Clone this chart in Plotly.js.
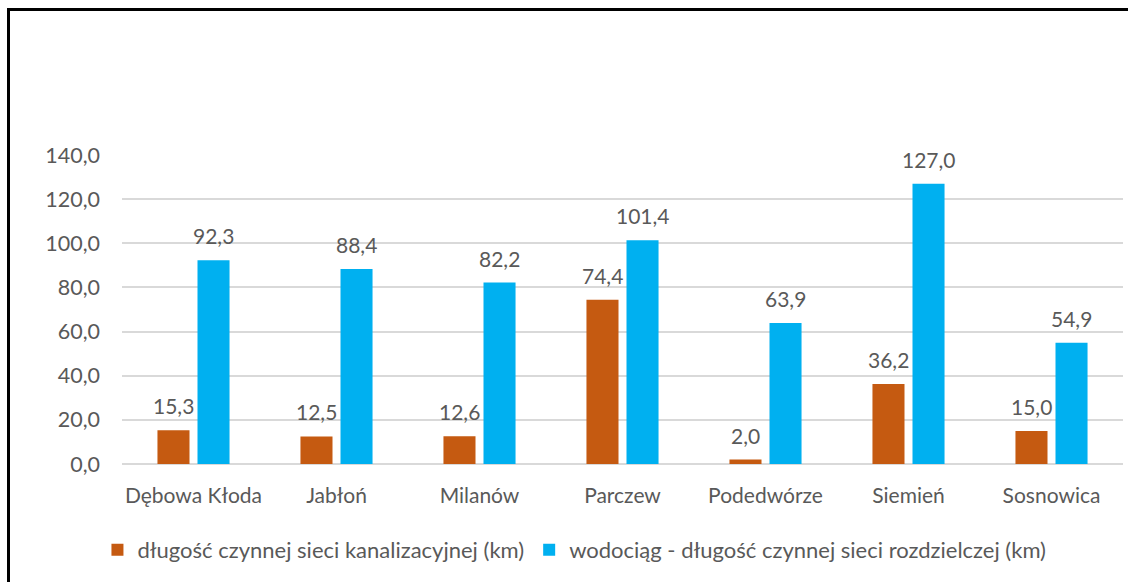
<!DOCTYPE html>
<html>
<head>
<meta charset="utf-8">
<script src="https://cdn.plot.ly/plotly-3.0.1.min.js"></script>
<style>
  html, body { margin: 0; padding: 0; background: #fff; }
  #wrap { position: relative; width: 1128px; height: 582px; overflow: hidden; }
  #chart { position: absolute; left: 0; top: 0; width: 1128px; height: 582px; }
  #frame { position: absolute; left: 7px; top: 8px; width: 1200px; height: 700px;
           border-left: 3px solid #000; border-top: 3px solid #000; pointer-events: none; }
</style>
</head>
<body>
<div id="wrap">
  <div id="chart"></div>
  <div id="frame"></div>
</div>
<script>
const categories = ["Dębowa Kłoda", "Jabłoń", "Milanów", "Parczew", "Podedwórze", "Siemień", "Sosnowica"];
const kanalizacja = [15.3, 12.5, 12.6, 74.4, 2.0, 36.2, 15.0];
const wodociag = [92.3, 88.4, 82.2, 101.4, 63.9, 127.0, 54.9];
const seriesNames = ["długość czynnej sieci kanalizacyjnej (km)", "wodociąg - długość czynnej sieci rozdzielczej (km)"];
const yTicks = [0, 20, 40, 60, 80, 100, 120, 140];

const fmt = v => v.toFixed(1).replace('.', ',');
const textColor = '#595959';
const fontFamily = 'Lato, "Open Sans", sans-serif';

const traces = [
  { type: 'bar', name: seriesNames[0], x: categories, y: kanalizacja,
    marker: { color: '#C55A11' }, hoverinfo: 'none' },
  { type: 'bar', name: seriesNames[1], x: categories, y: wodociag,
    marker: { color: '#00B0F0' }, hoverinfo: 'none' }
];

const annotations = [];
[kanalizacja, wodociag].forEach((vals, si) => {
  vals.forEach((v, i) => {
    annotations.push({
      x: categories[i], y: v, xref: 'x', yref: 'y',
      text: fmt(v), showarrow: false, yanchor: 'bottom',
      xshift: si === 0 ? -20 : 20, yshift: 10,
      font: { family: fontFamily, size: 21, color: textColor }
    });
  });
});

const layout = {
  width: 1128, height: 582,
  margin: { l: 122, r: 5, t: 155, b: 118 },
  paper_bgcolor: '#fff', plot_bgcolor: '#fff',
  separators: ', ',
  font: { family: fontFamily, color: textColor, size: 21 },
  barmode: 'group', bargap: 0.44, bargroupgap: 0.2,
  showlegend: true,
  legend: { orientation: 'h', x: 0.452, xanchor: 'center', y: -0.278, yanchor: 'middle',
            font: { family: fontFamily, size: 22, color: textColor }, traceorder: 'normal' },
  xaxis: { type: 'category', showgrid: false, showline: false, zeroline: false,
           ticks: '', ticklabelstandoff: 17, tickfont: { family: fontFamily, size: 21, color: textColor } },
  yaxis: { range: [0, 140], tickvals: yTicks, tickformat: '.1f', showgrid: true,
           gridcolor: '#D9D9D9', gridwidth: 2, zeroline: true, zerolinecolor: '#D9D9D9', zerolinewidth: 2,
           showline: false, ticks: '', ticklabelstandoff: 21,
           tickfont: { family: fontFamily, size: 21.5, color: textColor } },
  annotations: annotations
};

Plotly.newPlot('chart', traces, layout, { displayModeBar: false, staticPlot: true });
</script>
</body>
</html>
